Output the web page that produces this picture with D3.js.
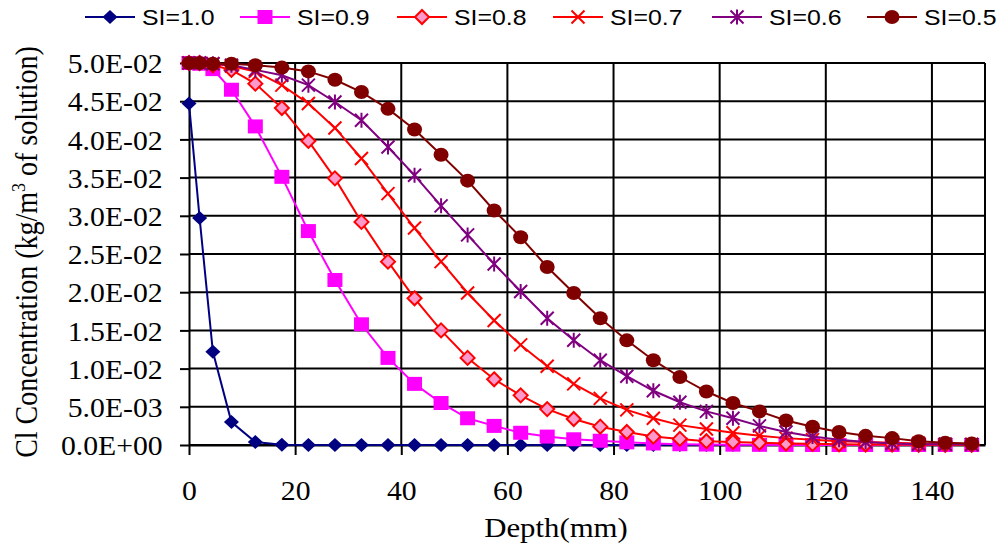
<!DOCTYPE html>
<html><head><meta charset="utf-8">
<script src="https://cdn.jsdelivr.net/npm/d3@7"></script>
<style>body{margin:0;background:#fff} svg{display:block}</style>
</head><body>
<svg id="chart" width="1000" height="550"></svg>
<script>
// ---- data ----
const depths = [0,2,4.5,8,12.5,17.5,22.5,27.5,32.5,37.5,42.5,47.5,52.5,57.5,62.5,67.5,72.5,77.5,82.5,87.5,92.5,97.5,102.5,107.5,112.5,117.5,122.5,127.5,132.5,137.5,142.5,147.5];
const seriesNames = ["SI=1.0","SI=0.9","SI=0.8","SI=0.7","SI=0.6","SI=0.5"];
const si10 = [0.0447,0.0297,0.0122,0.0030,0.0004,0.00003,0,0,0,0,0,0,0,0,0,0,0,0,0,0,0,0,0,0,0,0,0,0,0,0,0,0];
const si09 = [0.0500,0.0499,0.0492,0.0465,0.0417,0.0351,0.0280,0.0216,0.0158,0.0114,0.0080,0.0055,0.0035,0.0025,0.0016,0.0011,0.00075,0.00056,0.00035,0.0002,0.0001,0.00006,0.00004,0.00002,0.00001,0,0,0,0,0,0,0];
const si08 = [0.0500,0.0500,0.0497,0.0491,0.0473,0.0441,0.0398,0.0349,0.0292,0.0240,0.0192,0.0150,0.0114,0.0086,0.0065,0.0047,0.0034,0.0024,0.0017,0.0011,0.0008,0.0005,0.0004,0.0003,0.0002,0.00015,0.0001,0.00007,0.00005,0.00003,0.00002,0.00001];
const si07 = [0.0500,0.0500,0.0499,0.0496,0.0489,0.0471,0.0447,0.0415,0.0375,0.0329,0.0284,0.0240,0.0199,0.0163,0.0131,0.0103,0.0080,0.0061,0.0046,0.0035,0.0026,0.0021,0.0016,0.0012,0.0009,0.0007,0.0005,0.0004,0.0003,0.0002,0.0001,0.0001];
const si06 = [0.0500,0.0500,0.0499,0.0497,0.0491,0.0484,0.0471,0.0449,0.0425,0.0390,0.0353,0.0313,0.0275,0.0237,0.0201,0.0166,0.0137,0.0111,0.0090,0.0071,0.0056,0.0044,0.0035,0.0025,0.0017,0.0011,0.0007,0.0004,0.0002,0.0001,0.0001,0.00005];
const si05 = [0.0500,0.0500,0.0499,0.0499,0.0497,0.0494,0.0489,0.0478,0.0462,0.0440,0.0413,0.0380,0.0346,0.0307,0.0272,0.0233,0.0199,0.0166,0.0137,0.0111,0.0089,0.0070,0.0055,0.0044,0.0032,0.0024,0.0017,0.0012,0.0009,0.0005,0.0003,0.0002];
const xTicks = [0,20,40,60,80,100,120,140];
const yTicks = [0,0.005,0.01,0.015,0.02,0.025,0.03,0.035,0.04,0.045,0.05];
const yTickLabels = ["0.0E+00","5.0E-03","1.0E-02","1.5E-02","2.0E-02","2.5E-02","3.0E-02","3.5E-02","4.0E-02","4.5E-02","5.0E-02"];
const xTitle = "Depth(mm)";

// ---- styles ----
const styles = [
  {line:"#000080", marker:"diamond", fill:"#000080", stroke:"none", w:15, h:14},
  {line:"#FF00FF", marker:"square", fill:"#FF00FF", stroke:"none", w:15, h:14},
  {line:"#FF0000", marker:"diamond", fill:"#FF99CC", stroke:"#FF0000", w:14, h:14},
  {line:"#FF0000", marker:"x", fill:"none", stroke:"#FF0000", w:13, h:13},
  {line:"#800080", marker:"star", fill:"none", stroke:"#800080", w:13, h:13},
  {line:"#800000", marker:"circle", fill:"#800000", stroke:"none", w:15, h:14}
];
const allSeries = [si10, si09, si08, si07, si06, si05];

const svg = d3.select("#chart");
const L = 189, R = 985, T = 63, B = 445;
const x = d3.scaleLinear().domain([0,150]).range([L,R]);
const y = d3.scaleLinear().domain([0,0.05]).range([B,T]);

// gridlines
const grid = svg.append("g");
grid.selectAll("line.h").data(yTicks).join("line")
  .attr("x1",L).attr("x2",R).attr("y1",d=>y(d)).attr("y2",d=>y(d))
  .attr("stroke","#000").attr("stroke-width",2);
grid.selectAll("line.v").data(xTicks.slice(1)).join("line")
  .attr("y1",T).attr("y2",B).attr("x1",d=>x(d)).attr("x2",d=>x(d))
  .attr("stroke","#000").attr("stroke-width",2);
grid.append("line").attr("x1",R).attr("x2",R).attr("y1",T).attr("y2",B).attr("stroke","#000").attr("stroke-width",2);

// axes
const serif = "'Liberation Serif','Times New Roman',serif";
const sx = 1.1;
const yAxis = svg.append("g").attr("transform",`translate(${L},0)`)
  .call(d3.axisLeft(y).tickValues(yTicks).tickFormat((d,i)=>yTickLabels[i]).tickSize(9).tickSizeOuter(0));
yAxis.select(".domain").attr("stroke","#000").attr("stroke-width",2);
yAxis.selectAll(".tick line").attr("stroke","#000").attr("stroke-width",2);
yAxis.selectAll(".tick text").attr("font-family",serif).attr("font-size",27).attr("fill","#000")
  .attr("x",-24).attr("dy","0.36em").attr("transform",`scale(${sx},1)`);

const xAxis = svg.append("g").attr("transform",`translate(0,${B})`)
  .call(d3.axisBottom(x).tickValues(xTicks).tickFormat(d3.format("d")).tickSize(10).tickSizeOuter(0));
xAxis.select(".domain").attr("stroke","#000").attr("stroke-width",2);
xAxis.selectAll(".tick line").attr("stroke","#000").attr("stroke-width",2);
xAxis.selectAll(".tick text").attr("font-family",serif).attr("font-size",27).attr("fill","#000")
  .attr("y",55).attr("dy",0).attr("transform",`scale(${sx},1)`);

// axis titles
svg.append("text").attr("font-family",serif).attr("font-size",28).attr("text-anchor","middle")
  .attr("transform",`translate(${556/sx},537) `).attr("x",0).attr("y",0)
  .attr("transform",`scale(${sx},1) translate(${556/sx},537)`).text(xTitle);

const yt = svg.append("text").attr("font-family",serif).attr("font-size",28).attr("text-anchor","middle")
  .attr("transform",`translate(37,252) scale(${sx},1) rotate(-90)`);
yt.append("tspan").text("Cl Concentration (kg/m");
yt.append("tspan").attr("font-size",18).attr("dy",-11).text("3");
yt.append("tspan").attr("dy",11).text(" of solution)");

// markers
function markerPath(type,w,h){
  const a=w/2,b=h/2;
  if(type==="diamond") return `M0,${-b}L${a},0L0,${b}L${-a},0Z`;
  if(type==="square") return `M${-a},${-b}H${a}V${b}H${-a}Z`;
  if(type==="x") return `M${-a},${-b}L${a},${b}M${-a},${b}L${a},${-b}`;
  if(type==="star") return `M${-a},${-b}L${a},${b}M${-a},${b}L${a},${-b}M0,${-b-1}V${b+1}`;
  return "";
}
function drawMarker(g,st){
  if(st.marker==="circle"){
    g.append("ellipse").attr("rx",st.w/2).attr("ry",st.h/2).attr("fill",st.fill);
  } else {
    g.append("path").attr("d",markerPath(st.marker,st.w,st.h))
      .attr("fill",st.fill).attr("stroke",st.stroke).attr("stroke-width",2);
  }
}

const lineGen = d3.line().x((d,i)=>x(depths[i])).y(d=>y(d));
allSeries.forEach((vals,si)=>{
  const st = styles[si];
  const g = svg.append("g");
  g.append("path").attr("d",lineGen(vals)).attr("fill","none").attr("stroke",st.line).attr("stroke-width",2);
  vals.forEach((v,i)=>{
    const mg = g.append("g").attr("transform",`translate(${x(depths[i])},${y(v)})`);
    drawMarker(mg,st);
  });
});

// legend
const legX = [85,240,397,553,712,867];
const sans = "'Liberation Sans',Arial,sans-serif";
seriesNames.forEach((name,i)=>{
  const st = styles[i];
  const g = svg.append("g").attr("transform",`translate(${legX[i]},17)`);
  g.append("line").attr("x1",0).attr("x2",50).attr("y1",0).attr("y2",0).attr("stroke",st.line).attr("stroke-width",2);
  const mg = g.append("g").attr("transform","translate(25,0)");
  drawMarker(mg,st);
  g.append("text").attr("font-family",sans).attr("font-size",22).attr("fill","#000")
    .attr("transform",`scale(1.13,1)`).attr("x",57/1.13).attr("y",8).text(name);
});
</script>
</body></html>
